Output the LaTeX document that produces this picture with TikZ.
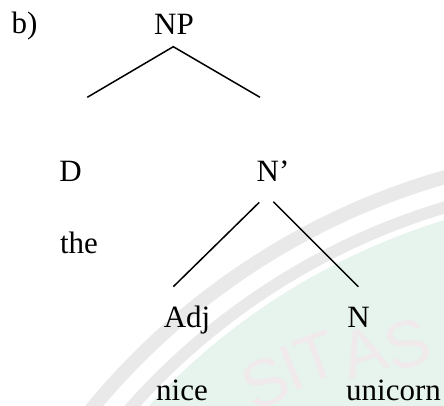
\documentclass[tikz,border=0pt]{standalone}
\usepackage{fontspec}
\setmainfont{Liberation Serif}
\newfontfamily\wmfont{Liberation Sans}
\definecolor{wmgray}{RGB}{233,233,233}
\definecolor{wmgreen}{RGB}{230,244,237}
\definecolor{wmtext}{RGB}{240,234,236}
\tikzset{
  lab/.style={anchor=base, inner sep=0pt, font=\fontsize{31}{36}\selectfont},
  branch/.style={line width=1.5pt, black},
  wmletter/.style={inner sep=0pt, text=wmtext, font=\wmfont\fontsize{66}{66}\selectfont}
}
\begin{document}
\begin{tikzpicture}[x=1pt, y=-1pt]
\useasboundingbox (0,0) rectangle (444,405);
% watermark
\begin{scope}
\clip (0,0) rectangle (444,405);
\fill[wmgreen] (640,860) circle[radius=669pt];
\draw[wmgray, line width=12pt] (640,860) circle[radius=681pt];
\draw[wmgray, line width=14pt] (640,860) circle[radius=710pt];
\node[wmletter, rotate=24] (w1) at (265,383) {S};
\node[wmletter, rotate=22] (w2) at (291,368) {I};
\node[wmletter, rotate=20] (w3) at (317,357) {T};
\node[wmletter, rotate=18] (w4) at (363,352) {A};
\node[wmletter, rotate=16] (w5) at (407,345) {S};
\end{scope}
% labels
\node[lab] (b)   at (24.5,33) {b)};
\node[lab] (np)  at (174,34) {NP};
\node[lab] (d)   at (70.5,181) {D};
\node[lab] (nbar) at (273,181) {N’};
\node[lab] (the) at (79,253) {the};
\node[lab] (adj) at (187,327) {Adj};
\node[lab] (n)   at (358.5,327) {N};
\node[lab] (nice) at (182,400) {nice};
\node[lab] (unicorn) at (393.5,400) {unicorn};
% branch end points
\coordinate (npb) at (173.3,46.7);
\coordinate (dt) at (87.3,97.3);
\coordinate (nbart) at (260,97.3);
\coordinate (nbarbl) at (259.3,202.3);
\coordinate (nbarbr) at (273.3,201.7);
\coordinate (adjt) at (173.3,286.7);
\coordinate (nt) at (358.3,286.7);
\draw[branch] (dt) -- (npb) -- (nbart);
\draw[branch] (nbarbl) -- (adjt);
\draw[branch] (nbarbr) -- (nt);
\end{tikzpicture}
\end{document}
